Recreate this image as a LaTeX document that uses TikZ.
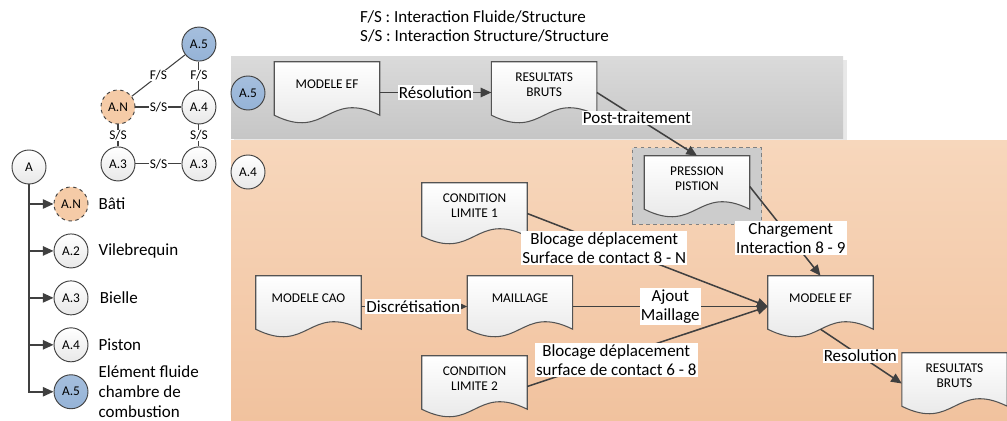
\documentclass[tikz,border=0pt]{standalone}
\usepackage{fontspec}
\setmainfont{Carlito}
\usetikzlibrary{arrows.meta,positioning,fit,calc}
\definecolor{lncol}{HTML}{404040}
\definecolor{bluec}{HTML}{95B3D7}
\definecolor{orc}{HTML}{F5CBA7}
\definecolor{gtop}{HTML}{DADADA}
\definecolor{gbot}{HTML}{C6C6C6}
\definecolor{otop}{HTML}{F7D7BC}
\definecolor{obot}{HTML}{F1C29E}
\newcommand{\fbig}{\fontsize{14.5}{16.8}\selectfont}
\newcommand{\fsml}{\fontsize{11.4}{12.8}\selectfont}
\pgfdeclarelayer{back}
\pgfdeclarelayer{docs}
\pgfsetlayers{back,docs,main}

\begin{document}
\begin{tikzpicture}[x=0.3mm, y=-0.3mm, font=\fsml, node distance=3.6mm]
\tikzset{
  circ/.style ={circle, draw=lncol, line width=0.8pt, minimum size=10.2mm, inner sep=0pt,
                top color=white, bottom color=gray!18},
  cblue/.style={circ, top color=bluec!85, bottom color=bluec},
  cor/.style  ={circ, dashed, top color=orc, bottom color=orc},
  doc/.style  ={align=center, minimum width=31.5mm, minimum height=13.5mm, inner sep=1pt},
  docbg/.style={draw=lncol!90, line width=0.9pt, top color=white, bottom color=gray!22},
  grp/.style  ={draw=gray, dashed, line width=0.8pt, fill=gray!40, inner xsep=3.6mm, inner ysep=2.4mm},
  lbl/.style  ={fill=white, inner sep=1pt, align=center, font=\fbig},
  glbl/.style ={fill=white, inner sep=0.8pt, font=\fsml},
  tlbl/.style ={align=left, inner sep=0.5pt, font=\fbig},
  gl/.style   ={draw=lncol, line width=0.9pt},
  aO/.style   ={-{Triangle[length=3.2mm,width=2.8mm]}, draw=lncol, line width=1.3pt}
}
\useasboundingbox (0,0) rectangle (1007,421);
% legend
\node[font=\fbig, align=left, inner sep=0pt, anchor=west] (leg) at (360,26.5)
  {F/S : Interaction Fluide/Structure\\S/S : Interaction Structure/Structure};
% interaction graph
\node[cor] (gN) at (118,107) {A.N};
\node[circ, right=13.8mm of gN] (g4) {A.4};
\node[cblue, above=8.4mm of g4] (g5) {A.5};
\node[circ, below=6.6mm of gN] (g3a) {A.3};
\node[circ, below=6.6mm of g4] (g3b) {A.3};
\draw[gl] (gN) -- node[glbl]{F/S} (g5);
\draw[gl] (g4) -- node[glbl]{F/S} (g5);
\draw[gl] (gN) -- node[glbl]{S/S} (g4);
\draw[gl] (gN) -- node[glbl]{S/S} (g3a);
\draw[gl] (g4) -- node[glbl]{S/S} (g3b);
\draw[gl] (g3a) -- node[glbl]{S/S} (g3b);
% tree
\node[circ] (t0) at (29,167) {A};
\node[cor] (tN) at (71,204) {A.N};
\node[circ, below=of tN] (t2) {A.2};
\node[circ, below=of t2] (t3) {A.3};
\node[circ, below=of t3] (t4) {A.4};
\node[cblue, below=of t4] (t5) {A.5};
\node[tlbl, right=2.8mm of tN] (lN) {Bâti};
\node[tlbl, right=2.8mm of t2] (l2) {Vilebrequin};
\node[tlbl, right=3.2mm of t3] (l3) {Bielle};
\node[tlbl, right=2.8mm of t4] (l4) {Piston};
\node[tlbl, right=2.8mm of t5] (l5) {Elément fluide\\chambre de\\combustion};
\foreach \t in {tN,t2,t3,t4,t5} \draw[aO] (t0) |- (\t);
% zones
\node[cblue] (b5) at (248,93) {A.5};
\node[circ] (b4) at (248,172) {A.4};
% documents
\node[doc] (mef5) at (327,84.5) {MODELE EF};
\node[doc, right=33.5mm of mef5] (res5) {RESULTATS\\BRUTS};
\node[doc] (press) at (697,178.5) {PRESSION\\PISTION};
\node[doc] (cl1) at (474.5,205.5) {CONDITION\\LIMITE 1};
\node[doc] (cao) at (308.5,298.5) {MODELE CAO};
\node[doc, right=31.8mm of cao] (mail) {MAILLAGE};
\node[doc] (mef4) at (820.5,298.5) {MODELE EF};
\node[doc] (cl2) at (474.5,378.5) {CONDITION\\LIMITE 2};
\node[doc] (res4) at (954.5,375.5) {RESULTATS\\BRUTS};
% links
\draw[aO] ([yshift=-2.4mm]mef5.east) -- node[lbl]{Résolution} ([yshift=-2.4mm]res5.west);
\draw[aO] ([yshift=-2.4mm]res5.east) -- node[lbl,pos=0.4]{Post-traitement} (press.north);
\draw[aO] ([yshift=-2.4mm]press.east) -- node[lbl,pos=0.58]{Chargement\\Interaction 8 - 9} (mef4.north);
\draw[aO] ([yshift=-2.4mm]cao.east) -- node[lbl,pos=0.49]{Discrétisation} ([yshift=-2.4mm]mail.west);
\draw[aO] ([yshift=-2.4mm]mail.east) -- node[lbl]{Ajout\\Maillage} ([yshift=-2.4mm]mef4.west);
\draw[aO] ([yshift=-2.4mm]cl1.east) -- node[lbl,pos=0.32,yshift=-1.5mm]{Blocage déplacement\\Surface de contact 8 - N} ([yshift=-2.4mm]mef4.west);
\draw[aO] ([yshift=-2.4mm]cl2.east) -- node[lbl,pos=0.37,yshift=-1mm]{Blocage déplacement\\surface de contact 6 - 8} ([yshift=-2.4mm]mef4.west);
\draw[aO] ([yshift=-2.4mm]mef4.south) -- node[lbl,pos=0.49]{Resolution} ([yshift=-2.4mm]res4.west);
% shapes behind
\begin{pgfonlayer}{docs}
  \node[grp, fit={(press) ([yshift=-4.5mm]press.south)}] (grpP) {};
  \foreach \d in {mef5,res5,press,cl1,cao,mail,mef4,cl2,res4}
    \draw[docbg] (\d.north west) -- (\d.north east) -- ([yshift=-2.4mm]\d.south east)
      .. controls +(-15.75mm,7.8mm) and +(15.75mm,-7.8mm) .. ([yshift=-2.4mm]\d.south west) -- cycle;
\end{pgfonlayer}
\begin{pgfonlayer}{back}
  \fill[gray!18] (234,60) rectangle (847,143);
  \shade[top color=gtop, bottom color=gbot] (231,57) rectangle (843,139);
  \shade[top color=otop, bottom color=obot] (231,141) rectangle (1007,421);
\end{pgfonlayer}
\end{tikzpicture}
\end{document}
